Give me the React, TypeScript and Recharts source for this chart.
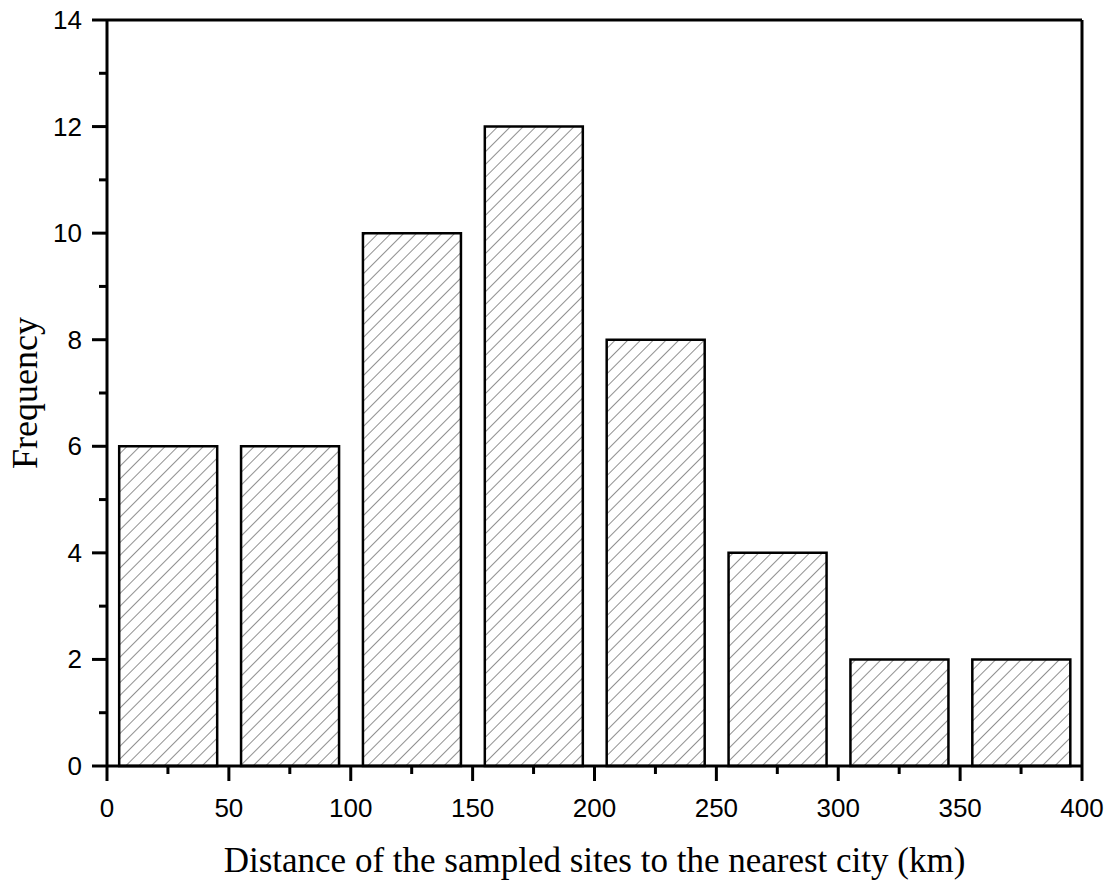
import { BarChart, Bar, XAxis, YAxis, ReferenceLine } from "recharts";

// histogram bins (centre of each 50 km bin) and counts
const binCenters = [25, 75, 125, 175, 225, 275, 325, 375];
const frequencies = [6, 6, 10, 12, 8, 4, 2, 2];

const xTicks = [0, 25, 50, 75, 100, 125, 150, 175, 200, 225, 250, 275, 300, 325, 350, 375, 400];
const xMajorTicks = [0, 50, 100, 150, 200, 250, 300, 350, 400];
const yTicks = [0, 1, 2, 3, 4, 5, 6, 7, 8, 9, 10, 11, 12, 13, 14];
const yMajorTicks = [0, 2, 4, 6, 8, 10, 12, 14];

const xTitle = "Distance of the sampled sites to the nearest city (km)";
const yTitle = "Frequency";

const data = binCenters.map((d, i) => ({ distance: d, frequency: frequencies[i] }));

const sans = '"Liberation Sans", Arial, sans-serif';
const serif = '"Liberation Serif", "Times New Roman", serif';

function XTick(props: any) {
  const { x, y, payload } = props;
  const major = xMajorTicks.includes(payload.value);
  return (
    <g>
      <line x1={x} y1={y} x2={x} y2={y + (major ? 15 : 8)} stroke="#000" strokeWidth={3} />
      {major && (
        <text x={x} y={y + 51} textAnchor="middle" fontFamily={sans} fontSize={26} fill="#000">
          {payload.value}
        </text>
      )}
    </g>
  );
}

function YTick(props: any) {
  const { x, y, payload } = props;
  const major = yMajorTicks.includes(payload.value);
  return (
    <g>
      <line x1={x} y1={y} x2={x - (major ? 15 : 8)} y2={y} stroke="#000" strokeWidth={3} />
      {major && (
        <text x={x - 25} y={y + 9} textAnchor="end" fontFamily={sans} fontSize={26} fill="#000">
          {payload.value}
        </text>
      )}
    </g>
  );
}

function XTitle(props: any) {
  const { x, y, width } = props.viewBox;
  return (
    <text x={x + width / 2} y={y + 106} textAnchor="middle" fontFamily={serif} fontSize={35} fill="#000">
      {xTitle}
    </text>
  );
}

function YTitle(props: any) {
  const { y, height } = props.viewBox;
  const cx = 37;
  const cy = y + height / 2;
  return (
    <text x={cx} y={cy} transform={`rotate(-90 ${cx} ${cy})`} textAnchor="middle" fontFamily={serif} fontSize={36} fill="#000">
      {yTitle}
    </text>
  );
}

export default function App() {
  return (
    <div style={{ position: "absolute", left: 0, top: 0, background: "#fff" }}>
      <svg width={0} height={0} style={{ position: "absolute" }}>
        <defs>
          <pattern id="hatch" patternUnits="userSpaceOnUse" width={9} height={9} patternTransform="rotate(45)">
            <line x1={0} y1={0} x2={0} y2={9} stroke="#222" strokeWidth={1} />
          </pattern>
        </defs>
      </svg>
      <BarChart width={1114} height={881} data={data} margin={{ top: 20, right: 32, left: 0, bottom: 0 }}>
        <XAxis
          dataKey="distance"
          type="number"
          domain={[0, 400]}
          ticks={xTicks}
          interval={0}
          height={115}
          tickSize={0}
          tickMargin={0}
          tickLine={false}
          tick={<XTick />}
          axisLine={{ stroke: "#000", strokeWidth: 3 }}
          label={<XTitle />}
        />
        <YAxis
          type="number"
          domain={[0, 14]}
          ticks={yTicks}
          interval={0}
          width={107}
          tickSize={0}
          tickMargin={0}
          tickLine={false}
          tick={<YTick />}
          axisLine={{ stroke: "#000", strokeWidth: 3 }}
          label={<YTitle />}
        />
        <Bar
          dataKey="frequency"
          fill="url(#hatch)"
          stroke="#000"
          strokeWidth={2.5}
          isAnimationActive={false}
        />
        <ReferenceLine y={14} stroke="#000" strokeWidth={3} ifOverflow="visible" />
        <ReferenceLine x={400} stroke="#000" strokeWidth={3} ifOverflow="visible" />
      </BarChart>
    </div>
  );
}
